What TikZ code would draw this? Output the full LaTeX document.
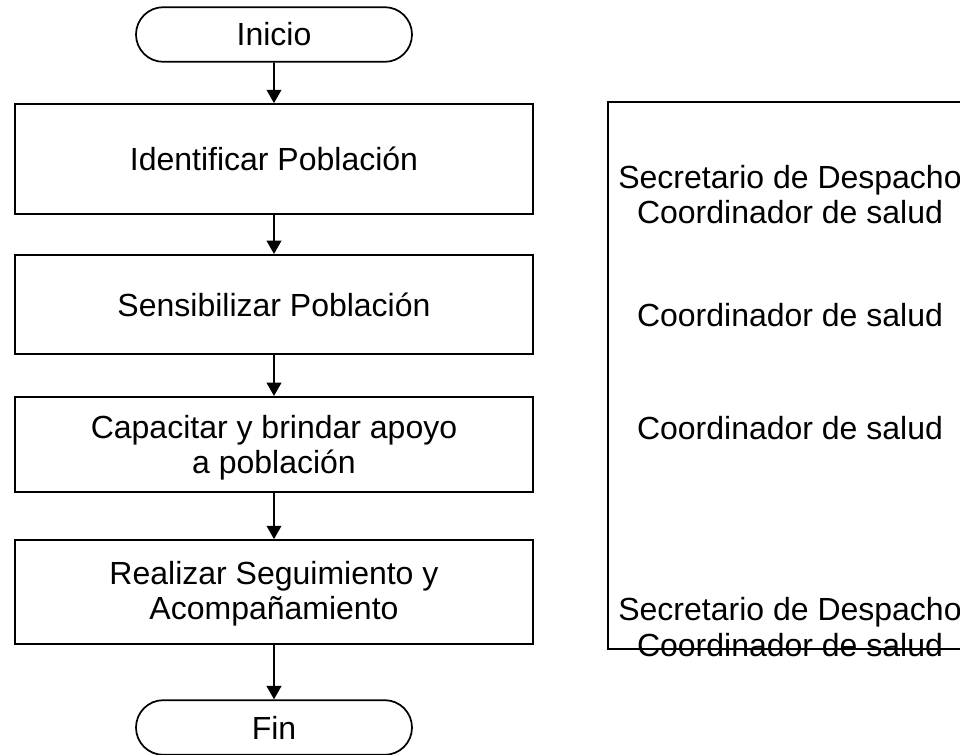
\documentclass[tikz,border=0pt]{standalone}
\usepackage{fontspec}
\setmainfont{Liberation Sans}
\usetikzlibrary{shapes.misc,arrows.meta}
\begin{document}
\begin{tikzpicture}[x=0.75pt, y=-0.75pt, line width=1.3pt, >={Triangle[width=11pt,length=10pt]}, font=\fontsize{24}{26.5}\selectfont,
	term/.style={draw, rounded rectangle, minimum width=207pt, minimum height=41pt, inner sep=0pt},
	proc/.style={draw, rectangle, minimum width=389pt, align=center, inner sep=0pt},
	resp/.style={align=center, inner sep=0pt}]
	\useasboundingbox (0,0) rectangle (960,754);
	\node[term] (inicio) at (274,34.5) {Inicio};
	\node[proc, minimum height=82.5pt] (ident) at (274,159) {Identificar Población};
	\node[proc, minimum height=74.5pt] (sens) at (274,304.5) {Sensibilizar Población};
	\node[proc, minimum height=71.5pt] (capac) at (274,444.5) {\rule{0pt}{22pt}Capacitar y brindar apoyo\\a población};
	\node[proc, minimum height=78pt] (segui) at (274,592) {\rule{0pt}{20pt}Realizar Seguimiento y\\Acompañamiento};
	\node[term] (fin) at (274,727.5) {Fin};
	\foreach \a/\b in {inicio/ident, ident/sens, sens/capac, capac/segui, segui/fin} {
		\draw[->] (\a) -- (\b);
	}
	% responsables
	\draw (960,102) -- (608,102) -- (608,649) -- (960,649);
	\node[resp] (r1) at (790,194.5) {Secretario de Despacho\\Coordinador de salud};
	\node[resp] (r2) at (790,315) {Coordinador de salud};
	\node[resp] (r3) at (790,428) {Coordinador de salud};
	\node[resp] (r4) at (790,627) {Secretario de Despacho\\Coordinador de salud};
\end{tikzpicture}
\end{document}
